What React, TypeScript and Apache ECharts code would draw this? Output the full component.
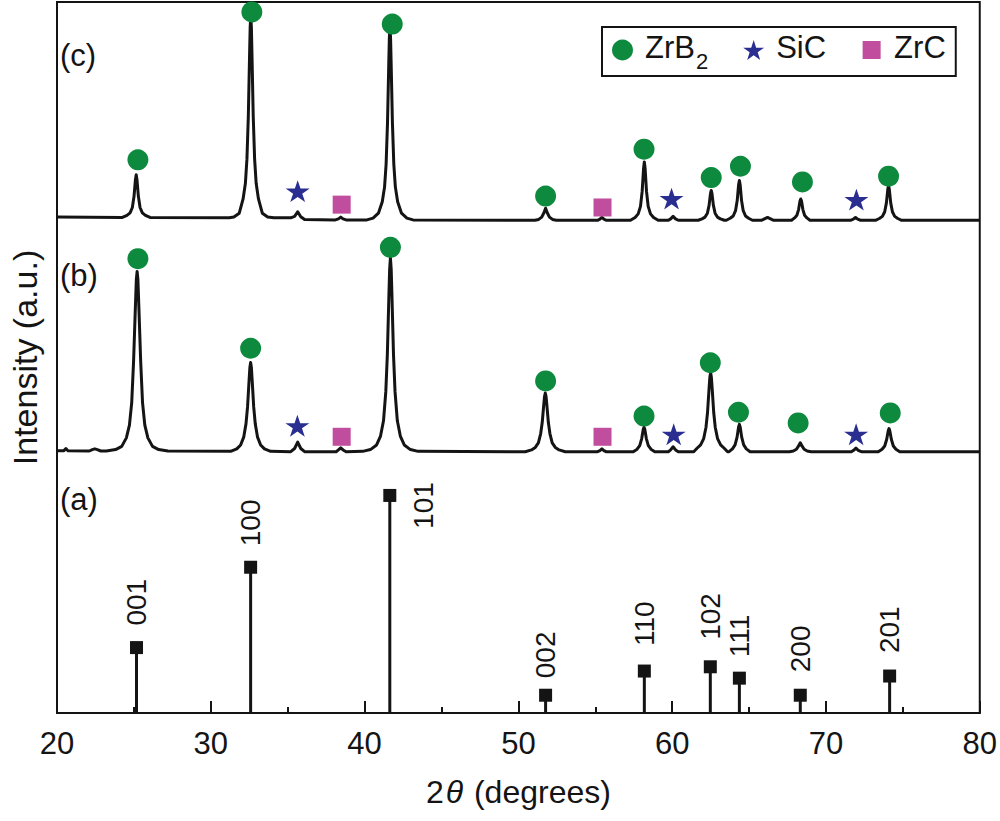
import React, { useEffect, useRef } from "react";
import * as echarts from "echarts";

// ---------- data ----------
// Pattern (c): [2θ, intensity (a.u.)] relative to its baseline
const patternC: [number, number][] = [
  [20, 0.45], [24.25, 0.4],
  [24.55, 0.7], [24.75, 1.05], [24.9, 1.8], [25.01, 3.4], [25.1, 5.7], [25.15, 6.4], [25.2, 5.7], [25.29, 3.4], [25.4, 1.8], [25.55, 1.05], [25.75, 0.7], [26.05, 0.4],
  [31.2, 0.35], [31.5, 0.45], [31.85, 1.0], [32.1, 3.0], [32.25, 5.2], [32.35, 8.6], [32.44, 14.6], [32.52, 23.1], [32.56, 27.1], [32.6, 28.8], [32.64, 27.1], [32.68, 23.1], [32.76, 14.6], [32.85, 8.6], [32.95, 5.2], [33.1, 3.0], [33.35, 1.0], [33.7, 0.45], [34.1, 0.35],
  [35.2, 0.35], [35.45, 0.55], [35.65, 1.2], [35.85, 0.5], [36.1, 0.1],
  [38.1, 0.05], [38.3, 0.2], [38.45, 0.45], [38.6, 0.2], [38.8, 0.05],
  [40.15, 0.05], [40.55, 0.3], [40.9, 1.0], [41.15, 2.6], [41.3, 4.7], [41.4, 7.9], [41.49, 13.7], [41.57, 21.8], [41.61, 25.6], [41.65, 27.3], [41.69, 25.6], [41.73, 21.8], [41.81, 13.7], [41.9, 7.9], [42.0, 4.7], [42.15, 2.6], [42.4, 1.0], [42.75, 0.3], [43.15, 0.05],
  [51.07, 0], [51.32, 0.12], [51.52, 0.45], [51.67, 1.1], [51.77, 1.7], [51.87, 1.1], [52.02, 0.45], [52.22, 0.12], [52.47, 0],
  [55.15, 0], [55.3, 0.15], [55.43, 0.4], [55.56, 0.15], [55.7, 0],
  [57.29, 0], [57.59, 0.4], [57.79, 0.9], [57.94, 1.95], [58.05, 4.1], [58.14, 7.3], [58.19, 8.2], [58.24, 7.3], [58.33, 4.1], [58.44, 1.95], [58.59, 0.9], [58.79, 0.4], [59.09, 0],
  [59.75, 0], [59.9, 0.2], [60.06, 0.55], [60.22, 0.2], [60.4, 0],
  [61.69, 0], [61.94, 0.2], [62.14, 0.45], [62.29, 1.0], [62.4, 2.1], [62.49, 3.75], [62.54, 4.2], [62.59, 3.75], [62.68, 2.1], [62.79, 1.0], [62.94, 0.45], [63.14, 0.2], [63.39, 0],
  [63.52, 0], [63.77, 0.28], [63.97, 0.6], [64.12, 1.35], [64.23, 2.8], [64.32, 5.0], [64.37, 5.6], [64.42, 5.0], [64.51, 2.8], [64.62, 1.35], [64.77, 0.6], [64.97, 0.28], [65.22, 0],
  [65.8, 0], [66.0, 0.2], [66.2, 0.4], [66.4, 0.2], [66.6, 0],
  [67.76, 0], [67.96, 0.33], [68.11, 0.7], [68.22, 1.5], [68.31, 2.7], [68.36, 3.0], [68.41, 2.7], [68.5, 1.5], [68.61, 0.7], [68.76, 0.33], [68.96, 0],
  [71.6, 0], [71.78, 0.15], [71.92, 0.4], [72.06, 0.15], [72.25, 0],
  [73.22, 0], [73.47, 0.25], [73.67, 0.55], [73.82, 1.2], [73.93, 2.45], [74.02, 4.35], [74.07, 4.9], [74.12, 4.35], [74.21, 2.45], [74.32, 1.2], [74.47, 0.55], [74.67, 0.25], [74.92, 0],
  [80, 0],
];

// Pattern (b)
const patternB: [number, number][] = [
  [20, 0.2], [20.45, 0.2], [20.58, 0.5], [20.7, 0.2],
  [22.1, 0.15], [22.3, 0.35], [22.46, 0.45], [22.62, 0.35], [22.85, 0.15],
  [23.21, 0.15], [23.81, 0.35], [24.21, 0.8], [24.51, 2.0], [24.71, 3.8], [24.86, 7.0], [24.98, 12.8], [25.1, 20.6], [25.16, 24.3], [25.21, 25.4], [25.26, 24.3], [25.32, 20.6], [25.44, 12.8], [25.56, 7.0], [25.71, 3.8], [25.91, 2.0], [26.21, 0.8], [26.61, 0.35], [27.21, 0.15],
  [31.29, 0.1], [31.69, 0.45], [31.94, 1.0], [32.14, 2.1], [32.29, 4.0], [32.39, 6.35], [32.49, 10.1], [32.54, 11.85], [32.59, 12.6], [32.64, 11.85], [32.69, 10.1], [32.79, 6.35], [32.89, 4.0], [33.04, 2.1], [33.24, 1.0], [33.49, 0.45], [33.89, 0.1],
  [35.2, 0.05], [35.45, 0.5], [35.65, 1.4], [35.85, 0.5], [36.1, 0.05],
  [38.15, 0.05], [38.3, 0.3], [38.45, 0.6], [38.6, 0.3], [38.8, 0.05],
  [39.88, 0.1], [40.38, 0.35], [40.78, 1.0], [41.03, 2.2], [41.23, 4.4], [41.38, 8.5], [41.48, 13.7], [41.58, 21.9], [41.63, 25.7], [41.68, 27.3], [41.73, 25.7], [41.78, 21.9], [41.88, 13.7], [41.98, 8.5], [42.13, 4.4], [42.33, 2.2], [42.58, 1.0], [42.98, 0.35], [43.48, 0.1],
  [50.45, 0.05], [50.85, 0.3], [51.1, 0.65], [51.3, 1.3], [51.45, 2.6], [51.55, 4.15], [51.65, 6.65], [51.7, 7.8], [51.75, 8.3], [51.8, 7.8], [51.85, 6.65], [51.95, 4.15], [52.05, 2.6], [52.2, 1.3], [52.4, 0.65], [52.65, 0.3], [53.05, 0.05],
  [55.15, 0.05], [55.3, 0.2], [55.43, 0.45], [55.56, 0.2], [55.7, 0.05],
  [57.47, 0.05], [57.72, 0.4], [57.89, 0.9], [58.02, 1.9], [58.12, 3.2], [58.17, 3.5], [58.22, 3.2], [58.32, 1.9], [58.45, 0.9], [58.62, 0.4], [58.87, 0.05],
  [59.75, 0.05], [59.9, 0.3], [60.06, 0.75], [60.22, 0.3], [60.4, 0.05],
  [61.4, 0.05], [61.6, 0.5], [61.85, 1.0], [62.05, 1.9], [62.2, 3.5], [62.3, 5.6], [62.4, 8.95], [62.45, 10.5], [62.5, 11.2], [62.55, 10.5], [62.6, 8.95], [62.7, 5.6], [62.8, 3.5], [62.95, 1.9], [63.15, 1.0], [63.4, 0.5], [63.6, 0.05],
  [63.7, 0.05], [63.92, 0.45], [64.09, 1.0], [64.22, 2.1], [64.32, 3.55], [64.37, 3.9], [64.42, 3.55], [64.52, 2.1], [64.65, 1.0], [64.82, 0.45], [65.07, 0.05],
  [67.63, 0.05], [67.88, 0.15], [68.08, 0.4], [68.23, 0.9], [68.33, 1.3], [68.43, 0.9], [68.58, 0.4], [68.78, 0.15], [69.03, 0.05],
  [71.65, 0.05], [71.8, 0.25], [71.95, 0.55], [72.1, 0.25], [72.3, 0.05],
  [73.4, 0.05], [73.65, 0.4], [73.82, 0.85], [73.95, 1.8], [74.05, 3.0], [74.1, 3.3], [74.15, 3.0], [74.25, 1.8], [74.38, 0.85], [74.55, 0.4], [74.8, 0.05],
  [80, 0.05],
];

// Reference pattern (a): ZrB2 standard lines
const refTwoTheta = [25.17, 32.59, 41.64, 51.77, 58.19, 62.48, 64.37, 68.33, 74.14];
const refIntensity = [9.2, 20.5, 30.6, 2.5, 5.9, 6.5, 4.9, 2.5, 5.2];
const refHkl = ["001", "100", "101", "002", "110", "102", "111", "200", "201"];

// Phase markers [2θ, height above pattern baseline]
const zrb2C: [number, number][] = [[25.26, 8.5], [32.67, 29.3], [41.8, 27.6], [51.77, 3.4], [58.17, 10.0], [62.54, 6.0], [64.44, 7.6], [68.47, 5.4], [74.07, 6.2]];
const sicC: [number, number][] = [[35.65, 4.1], [59.96, 3.05], [71.98, 2.9]];
const zrcC: [number, number][] = [[38.51, 2.2], [55.47, 1.8]];
const zrb2B: [number, number][] = [[25.26, 27.2], [32.59, 14.6], [41.68, 28.8], [51.77, 10.0], [58.17, 5.06], [62.48, 12.56], [64.31, 5.6], [68.19, 4.1], [74.18, 5.5]];
const sicB: [number, number][] = [[35.63, 3.7], [60.1, 2.5], [71.96, 2.5]];
const zrcB: [number, number][] = [[38.51, 2.15], [55.47, 2.15]];

const xTicks = [20, 30, 40, 50, 60, 70, 80];

// ---------- layout / style ----------
const OFFSET_B = 36.7;
const OFFSET_C = 69.3;
const labelGap = [15.5, 14.5, 0, 10.5, 18.5, 20.5, 14.5, 16.5, 16.5];
const FONT = "Liberation Sans, Arial, Helvetica, sans-serif";
const INK = "#141414";
const GREEN = "#0e8a3e";
const BLUE = "#2a2e90";
const MAGENTA = "#c04d9e";
const STAR = "path://M50,0L61.2,34.5L97.6,34.5L68.2,55.9L79.4,90.5L50,69.1L20.6,90.5L31.8,55.9L2.4,34.5L38.8,34.5Z";

const shift = (arr: [number, number][], off: number) => arr.map(([x, y]) => [x, y + off]);

export default function App() {
  const ref = useRef<HTMLDivElement>(null);
  useEffect(() => {
    if (!ref.current) return;
    const chart = echarts.init(ref.current, undefined, { renderer: "svg" });
    const refData = refTwoTheta.map((x, i) => {
      const isRight = refHkl[i] === "101";
      return {
        value: [x, refIntensity[i]],
        name: refHkl[i],
        label: isRight
          ? { show: true, position: [40, 40], rotate: 90, align: "left", verticalAlign: "middle" }
          : { show: true, position: "top", distance: labelGap[i], rotate: 90, align: "left", verticalAlign: "middle" },
      };
    });
    chart.setOption({
      animation: false,
      textStyle: { fontFamily: FONT, color: INK },
      grid: { left: 52, right: 20, top: 2, bottom: 108, show: true, borderColor: INK, borderWidth: 2, backgroundColor: "transparent" },
      xAxis: {
        type: "value",
        min: xTicks[0],
        max: xTicks[xTicks.length - 1],
        interval: 10,
        axisLine: { show: true, lineStyle: { color: INK, width: 2 } },
        axisTick: { show: true, inside: true, length: 12, lineStyle: { color: INK, width: 2 } },
        minorTick: { show: true, splitNumber: 2, length: 6, lineStyle: { color: INK, width: 2 } },
        splitLine: { show: false },
        axisLabel: { fontSize: 31, color: INK, fontFamily: FONT, margin: 15 },
        name: "{n|2}{t|θ}{n| (degrees)}",
        nameLocation: "middle",
        nameGap: 63,
        nameTextStyle: {
          rich: {
            n: { fontSize: 32, fontFamily: FONT, color: INK },
            t: { fontSize: 32, fontFamily: FONT, color: INK, fontStyle: "italic", padding: [0, 2, 0, 2] },
          },
        },
      },
      yAxis: {
        type: "value",
        min: 0,
        max: 100,
        axisLine: { show: true, lineStyle: { color: INK, width: 2 } },
        axisTick: { show: false },
        axisLabel: { show: false },
        splitLine: { show: false },
        name: "Intensity (a.u.)",
        nameLocation: "middle",
        nameGap: 15,
        nameTextStyle: { fontSize: 34, fontFamily: FONT, color: INK },
      },
      legend: {
        left: 602,
        top: 27,
        orient: "horizontal",
        padding: [5, 10, 4, 10],
        borderColor: INK,
        borderWidth: 2,
        itemWidth: 21,
        itemHeight: 21,
        itemGap: 35,
        data: [
          { name: "ZrB2", icon: "circle" },
          { name: "SiC", icon: STAR },
          { name: "ZrC", icon: "path://M0,0L0,0M1.5,1.5H19.5V19.5H1.5ZM21,21L21,21" },
        ],
        formatter: (name: string) => (name === "ZrB2" ? "{n|ZrB}{s|2}" : "{n|" + name + "}"),
        textStyle: {
          rich: {
            n: { fontSize: 31, fontFamily: FONT, color: INK, padding: [0, 0, 0, 7], lineHeight: 36, verticalAlign: "top" },
            s: { fontSize: 22, fontFamily: FONT, color: INK, lineHeight: 22, verticalAlign: "top", padding: [18, 0, 0, 1] },
          },
        },
      },
      graphic: [
        { type: "text", left: 60, top: 40, style: { text: "(c)", font: `31px ${FONT}`, fill: INK } },
        { type: "text", left: 60, top: 260, style: { text: "(b)", font: `31px ${FONT}`, fill: INK } },
        { type: "text", left: 60, top: 484, style: { text: "(a)", font: `31px ${FONT}`, fill: INK } },
      ],
      series: [
        {
          name: "pattern c",
          type: "line",
          data: shift(patternC, OFFSET_C),
          showSymbol: false,
          symbol: "none",
          lineStyle: { color: INK, width: 3, join: "round" },
          z: 2,
        },
        {
          name: "pattern b",
          type: "line",
          data: shift(patternB, OFFSET_B),
          showSymbol: false,
          symbol: "none",
          lineStyle: { color: INK, width: 3, join: "round" },
          z: 2,
        },
        {
          name: "ref sticks",
          type: "custom",
          data: refTwoTheta.map((x, i) => [x, refIntensity[i]]),
          renderItem: (params: any, api: any) => {
            const top = api.coord([api.value(0), api.value(1)]);
            const bot = api.coord([api.value(0), 0]);
            return {
              type: "line",
              shape: { x1: top[0], y1: top[1], x2: bot[0], y2: bot[1] },
              style: { stroke: INK, lineWidth: 3 },
            };
          },
          z: 2,
        },
        {
          name: "ref tops",
          type: "scatter",
          symbol: "rect",
          symbolSize: 13,
          itemStyle: { color: INK, opacity: 1 },
          data: refData,
          label: { fontSize: 28, fontFamily: FONT, color: INK, formatter: (p: any) => p.name },
          z: 3,
        },
        {
          name: "ZrB2",
          type: "scatter",
          symbol: "circle",
          symbolSize: 21,
          itemStyle: { color: GREEN, opacity: 1 },
          data: [...shift(zrb2C, OFFSET_C), ...shift(zrb2B, OFFSET_B)],
          clip: false,
          z: 4,
        },
        {
          name: "SiC",
          type: "scatter",
          symbol: STAR,
          symbolKeepAspect: true,
          symbolSize: [24, 23],
          itemStyle: { color: BLUE, opacity: 1 },
          data: [...shift(sicC, OFFSET_C), ...shift(sicB, OFFSET_B)],
          z: 4,
        },
        {
          name: "ZrC",
          type: "scatter",
          symbol: "rect",
          symbolSize: 18,
          itemStyle: { color: MAGENTA, opacity: 1 },
          data: [...shift(zrcC, OFFSET_C), ...shift(zrcB, OFFSET_B)],
          z: 4,
        },
      ],
    });
    return () => chart.dispose();
  }, []);
  return <div ref={ref} style={{ position: "absolute", left: 0, top: 0, width: 1000, height: 821, background: "#fff" }} />;
}
